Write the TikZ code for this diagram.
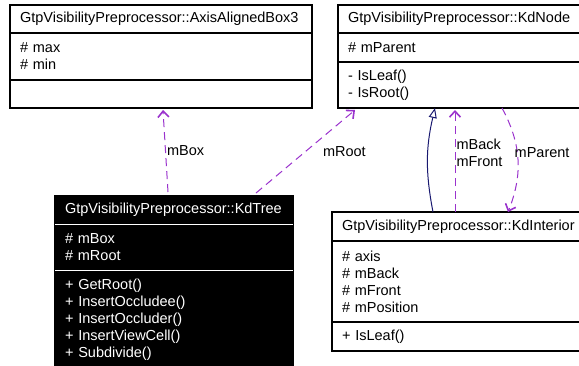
\documentclass[tikz,border=0pt]{standalone}
\usepackage{fontspec}
\setmainfont{Liberation Sans}
\usetikzlibrary{positioning,arrows.meta}

\definecolor{refpurple}{HTML}{9A32CD}
\definecolor{inhnavy}{HTML}{191970}

\tikzset{
    part/.style={rectangle, draw=black, line width=1.2pt, outer sep=0pt,
        inner xsep=10pt, inner ysep=0pt, align=left,
        text width=#1-20pt, minimum width=#1},
    usedby/.style={refpurple, line width=1pt, dash pattern=on 8pt off 5pt,
        -{Straight Barb[length=6pt, width=11pt, line width=1.6pt]}},
    inherits/.style={inhnavy, line width=1pt,
        -{Triangle[open, length=10pt, width=8pt]}},
    lbl/.style={inner sep=1pt, align=left, text=black}
}

\begin{document}
\begin{tikzpicture}[x=1pt, y=-1pt, font=\fontsize{14.5}{17}\selectfont]
    \useasboundingbox (0,0) rectangle (579,365);

    % Classes
    \node (box3title) [part=302pt, minimum height=28pt, anchor=north west] at (10,5)
        {GtpVisibilityPreprocessor::AxisAlignedBox3};
    \node (box3attr) [part=302pt, minimum height=47pt, below=0pt of box3title]
        {\# max\\\# min};
    \node (box3ops) [part=302pt, minimum height=28pt, below=0pt of box3attr] {};

    \node (nodetitle) [part=250pt, minimum height=28pt, anchor=north west] at (338,5)
        {GtpVisibilityPreprocessor::KdNode};
    \node (nodeattr) [part=250pt, minimum height=29pt, below=0pt of nodetitle]
        {\# mParent};
    \node (nodeops) [part=250pt, minimum height=46pt, below=0pt of nodeattr]
        {- IsLeaf()\\- IsRoot()};

    \node (treetitle) [part=238pt, fill=black, text=white, minimum height=28pt, anchor=north west] at (55,196)
        {GtpVisibilityPreprocessor::KdTree};
    \node (treeattr) [part=238pt, fill=black, text=white, minimum height=46pt, below=0pt of treetitle]
        {\# mBox\\\# mRoot};
    \node (treeops) [part=238pt, fill=black, text=white, minimum height=100pt, below=0pt of treeattr]
        {+ GetRoot()\\+ InsertOccludee()\\+ InsertOccluder()\\+ InsertViewCell()\\+ Subdivide()};
    \draw[white, line width=1pt] (treeattr.north west) -- (treeattr.north east);
    \draw[white, line width=1pt] (treeops.north west) -- (treeops.north east);

    \node (intitle) [part=256pt, minimum height=29pt, anchor=north west] at (332,212)
        {GtpVisibilityPreprocessor::KdInterior};
    \node (inattr) [part=256pt, minimum height=81pt, below=0pt of intitle]
        {\# axis\\\# mBack\\\# mFront\\\# mPosition};
    \node (inops) [part=256pt, minimum height=29pt, below=0pt of inattr]
        {+ IsLeaf()};

    % Relations
    \draw[usedby] ([xshift=113pt, yshift=4pt]treetitle.north west)
        -- node[lbl, right, pos=0.5] {mBox} ([xshift=153pt, yshift=-2pt]box3ops.south west);
    \draw[usedby] ([xshift=201pt, yshift=3pt]treetitle.north west)
        -- node[lbl, right=16pt, pos=0.5] {mRoot} ([xshift=17pt, yshift=-2pt]nodeops.south west);
    \draw[inherits] ([xshift=101pt]intitle.north west)
        to[bend left=12] ([xshift=97pt]nodeops.south west);
    \draw[usedby] ([xshift=123pt]intitle.north west)
        -- node[lbl, right, pos=0.58] {mBack\\mFront} ([xshift=117pt, yshift=-2pt]nodeops.south west);
    \draw[usedby] ([xshift=164pt]nodeops.south west)
        to[bend left=25] node[lbl, right, pos=0.43, xshift=-4pt] {mParent} ([xshift=176pt]intitle.north west);
\end{tikzpicture}
\end{document}
